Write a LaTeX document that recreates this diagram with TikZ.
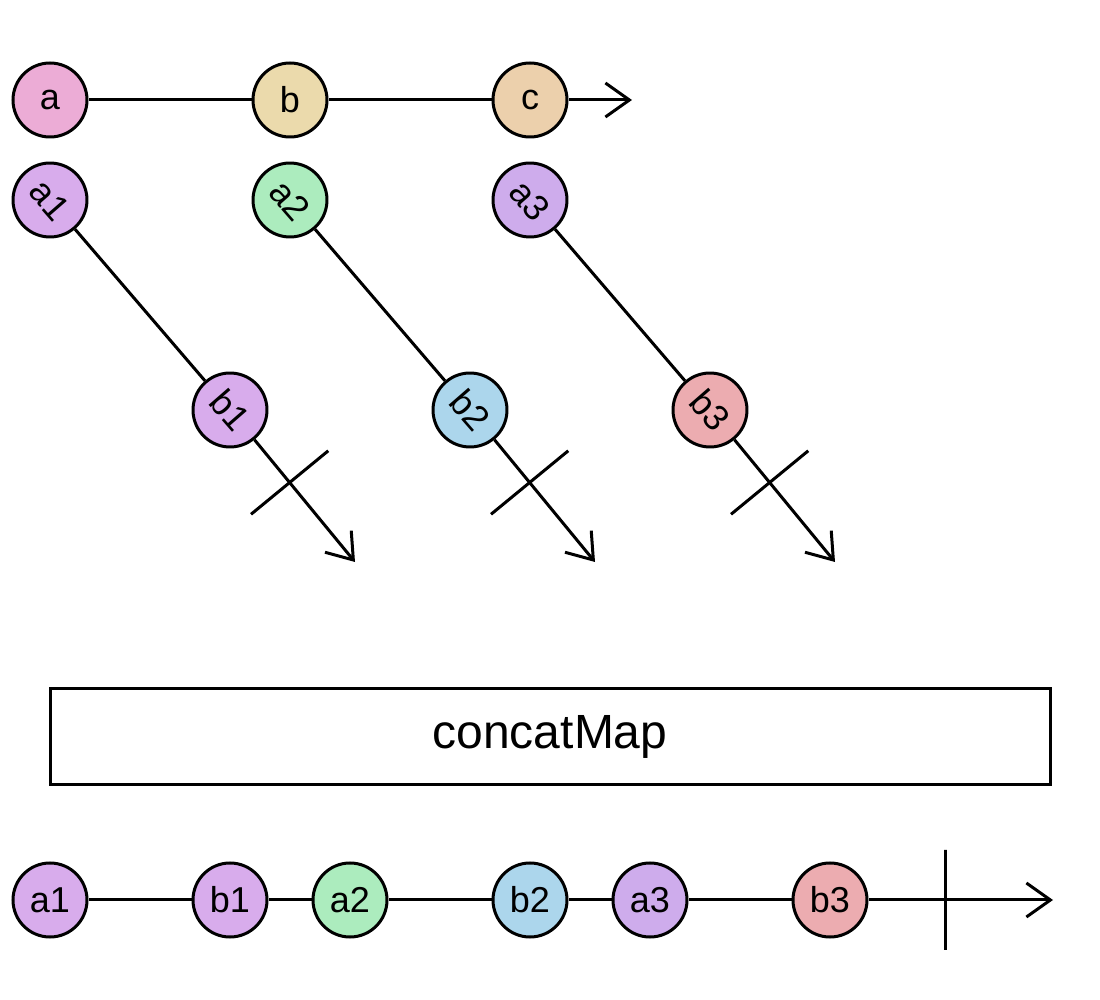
\documentclass[tikz,border=0pt]{standalone}
\usepackage{fontspec}
\setmainfont{Liberation Sans}
\usetikzlibrary{arrows.meta}

\definecolor{pinka}{RGB}{236,172,214}
\definecolor{sandb}{RGB}{235,218,172}
\definecolor{peachc}{RGB}{236,208,172}
\definecolor{lilac}{RGB}{216,172,236}
\definecolor{mint}{RGB}{172,236,190}
\definecolor{violet}{RGB}{206,172,236}
\definecolor{sky}{RGB}{172,214,236}
\definecolor{rose}{RGB}{236,172,176}

\begin{document}
\begin{tikzpicture}[ x=.5pt, y=-.5pt, line width=1.5pt,
        >={Straight Barb[length=12pt,width=17pt]},
        marble/.style={ circle, draw, minimum size=37pt, inner sep=0pt,
          font=\fontsize{18}{18}\selectfont },
        stop/.style={ sloped, draw, minimum width=0pt, minimum height=50pt,
          inner sep=0pt } ]
        \useasboundingbox (0,0) rectangle (1100,1000);

        % source stream
        \foreach \n/\x/\c in {a/50/pinka,b/290/sandb,c/530/peachc}
        \node[marble,fill=\c] (\n) at (\x,100) {\n};
        \coordinate (srcend) at (632,100);
        \draw[->] (a) -- (b) -- (c) -- (srcend);

        % inner streams
        \foreach \i/\x/\ca/\cb in {1/50/lilac/lilac,2/290/mint/sky,3/530/violet/rose} {
        \node[marble,fill=\ca,rotate=-49] (a\i) at (\x,200) {a\i};
        \node[marble,fill=\cb,rotate=-49] (b\i) at (\x+180,410) {b\i};
        \coordinate (t\i) at (\x+305,562);
        \draw (a\i) -- (b\i);
        \draw[->] (b\i) -- node[stop,pos=.35] {} (t\i);
        }

        \node[draw,minimum width=500pt,minimum height=48pt,
          font=\fontsize{24}{24}\selectfont] (op) at (550,737) {concatMap};

        % result stream
        \foreach \n/\x/\c in {a1/50/lilac,b1/230/lilac,a2/350/mint,
          b2/530/sky,a3/650/violet,b3/830/rose}
        \node[marble,fill=\c] (o\n) at (\x,900) {\n};
        \coordinate (outend) at (1053,900);
        \draw (oa1) -- (ob1) -- (oa2) -- (ob2) -- (oa3) -- (ob3);
        \draw[->] (ob3) -- node[stop,pos=.42] {} (outend);
      \end{tikzpicture}
\end{document}
